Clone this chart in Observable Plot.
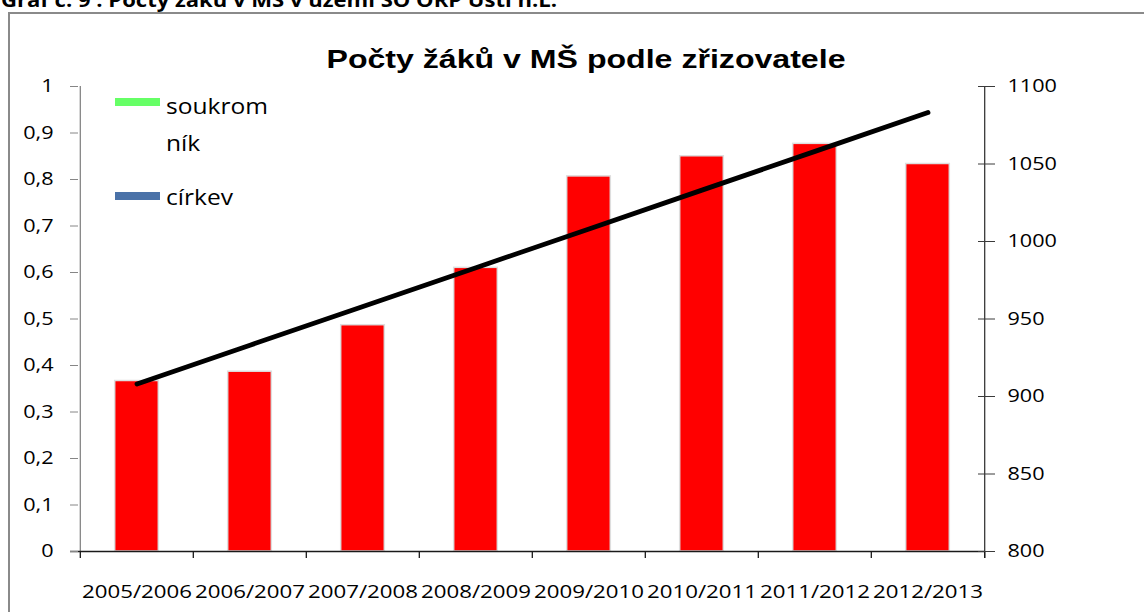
<!DOCTYPE html>
<html>
<head>
<meta charset="utf-8">
<script src="https://cdn.jsdelivr.net/npm/d3@7"></script>
<script src="https://cdn.jsdelivr.net/npm/@observablehq/plot@0.6"></script>
<style>
  body { margin: 0; background: #fff; }
  #chart { position: relative; width: 1144px; height: 612px; overflow: hidden; background: #fff; }
</style>
</head>
<body>
<div id="chart"></div>
<script>
// ---- data ----
const caption = "Graf č. 9 : Počty žáků v MŠ v území SO ORP Ústí n.L.";
const title = "Počty žáků v MŠ podle zřizovatele";
const years = ["2005/2006", "2006/2007", "2007/2008", "2008/2009", "2009/2010", "2010/2011", "2011/2012", "2012/2013"];
const pupils = [910, 916, 946, 983, 1042, 1055, 1063, 1050];
const leftTicks = [0, 0.1, 0.2, 0.3, 0.4, 0.5, 0.6, 0.7, 0.8, 0.9, 1];
const rightTicks = [800, 850, 900, 950, 1000, 1050, 1100];
const legendLabels = [["soukrom", "ník"], ["církev"]];
const legendColors = ["#66ff66", "#4a72a8"];
const rightDomain = [800, 1100];

// linear trend (least squares) of the bar series
const idx = d3.range(pupils.length);
const mx = d3.mean(idx), my = d3.mean(pupils);
const slope = d3.sum(idx, i => (i - mx) * (pupils[i] - my)) / d3.sum(idx, i => (i - mx) ** 2);
const trend = years.map((y, i) => ({year: y, value: my + slope * (i - mx)}));
const data = years.map((y, i) => ({year: y, value: pupils[i]}));

const toRight = t => rightDomain[0] + (rightDomain[1] - rightDomain[0]) * t;
const fmtLeft = v => {
  const t = Math.round((v - rightDomain[0]) / (rightDomain[1] - rightDomain[0]) * 10) / 10;
  return (t === 0 || t === 1) ? String(t) : t.toFixed(1).replace(".", ",");
};

const frameL = 78, frameR = 985, frameT = 86, frameB = 551;
const step = (frameR - frameL) / years.length;
const barW = 44;
const tickLen = 7 / (frameB - frameT) * (rightDomain[1] - rightDomain[0]);

const plot = Plot.plot({
  width: 1144,
  height: 612,
  marginLeft: frameL,
  marginRight: 1144 - frameR,
  marginTop: frameT,
  marginBottom: 612 - frameB,
  style: {fontFamily: "'Open Sans', sans-serif", fontSize: "18px", color: "#000", background: "transparent", overflow: "visible"},
  x: {domain: years, padding: 0, axis: null},
  y: {domain: rightDomain, axis: null},
  marks: [
    Plot.barY(data, {x: "year", y1: rightDomain[0], y2: "value", fill: "#ff0000", stroke: "#dedede", strokeWidth: 1.5,
      insetLeft: (step - barW) / 2, insetRight: (step - barW) / 2}),
    // axis lines
    Plot.ruleX([years[0]], {dx: -step / 2, stroke: "#868686", strokeWidth: 1.3}),
    Plot.ruleX([years[years.length - 1]], {dx: step / 2, stroke: "#3a3a3a", strokeWidth: 1.3, y1: rightDomain[0] - tickLen, y2: rightDomain[1]}),
    Plot.ruleY([rightDomain[0]], {stroke: "#1a1a1a", strokeWidth: 1.5, insetLeft: -8}),
    // category boundary ticks
    Plot.ruleX(years, {x: d => d, dx: -step / 2, y1: rightDomain[0], y2: rightDomain[0] - tickLen, stroke: "#1a1a1a", strokeWidth: 1.3}),
    Plot.ruleX([years[years.length - 1]], {dx: step / 2, y1: rightDomain[0], y2: rightDomain[0] - tickLen, stroke: "#1a1a1a", strokeWidth: 1.3}),
    // left axis (0 – 1)
    Plot.axisY(leftTicks.map(toRight), {anchor: "left", tickSize: 8, tickPadding: 17, tickFormat: fmtLeft, stroke: "#868686", label: null}),
    // right axis (800 – 1100)
    Plot.axisY(rightTicks, {anchor: "right", tickSize: 17, dx: -8, tickPadding: 13, tickFormat: d => String(d), stroke: "#3a3a3a", label: null}),
    // x labels
    Plot.axisX(years, {anchor: "bottom", tickSize: 0, tickPadding: 34, label: null}),
    // trend line
    Plot.lineY(trend, {x: "year", y: "value", stroke: "#000", strokeWidth: 4.8, strokeLinecap: "round"})
  ]
});

document.getElementById("chart").append(plot);
const svg = d3.select(plot);

// stretch axis texts horizontally (the reference is horizontally stretched)
svg.selectAll("text").each(function() {
  const w = this.getComputedTextLength();
  if (w > 0) d3.select(this).attr("textLength", w * 1.2).attr("lengthAdjust", "spacingAndGlyphs");
});
svg.selectAll("g[aria-label='x-axis tick label'] text").attr("textLength", 110);

// border box
svg.append("rect").attr("x", 9).attr("y", 13).attr("width", 1300).attr("height", 800)
  .attr("fill", "none").attr("stroke", "#8a8a8a").attr("stroke-width", 2);

// caption (cut off at top, as in the reference)
svg.append("text").attr("x", 1).attr("y", 7).attr("text-anchor", "start").text(caption)
  .attr("font-family", "'Open Sans', sans-serif").attr("font-weight", "bold").attr("font-size", 20)
  .attr("fill", "#000").attr("textLength", 556).attr("lengthAdjust", "spacingAndGlyphs");

// title
svg.append("text").attr("x", 586).attr("y", 68).attr("text-anchor", "middle").text(title)
  .attr("font-family", "'Liberation Sans', Arial, sans-serif").attr("font-weight", "bold").attr("font-size", 26)
  .attr("fill", "#000").attr("textLength", 519).attr("lengthAdjust", "spacingAndGlyphs");

// legend
const legendY = [[114, 151], [205]];
const swatchY = [98, 192];
legendLabels.forEach((lines, k) => {
  svg.append("rect").attr("x", 115).attr("y", swatchY[k]).attr("width", 45).attr("height", 8).attr("fill", legendColors[k]);
  lines.forEach((line, j) => {
    const t = svg.append("text").attr("x", 166).attr("y", legendY[k][j]).attr("text-anchor", "start").text(line)
      .attr("font-family", "'Open Sans', sans-serif").attr("font-size", 21).attr("fill", "#000");
    const w = t.node().getComputedTextLength();
    t.attr("textLength", w * 1.17).attr("lengthAdjust", "spacingAndGlyphs");
  });
});
</script>
</body>
</html>
